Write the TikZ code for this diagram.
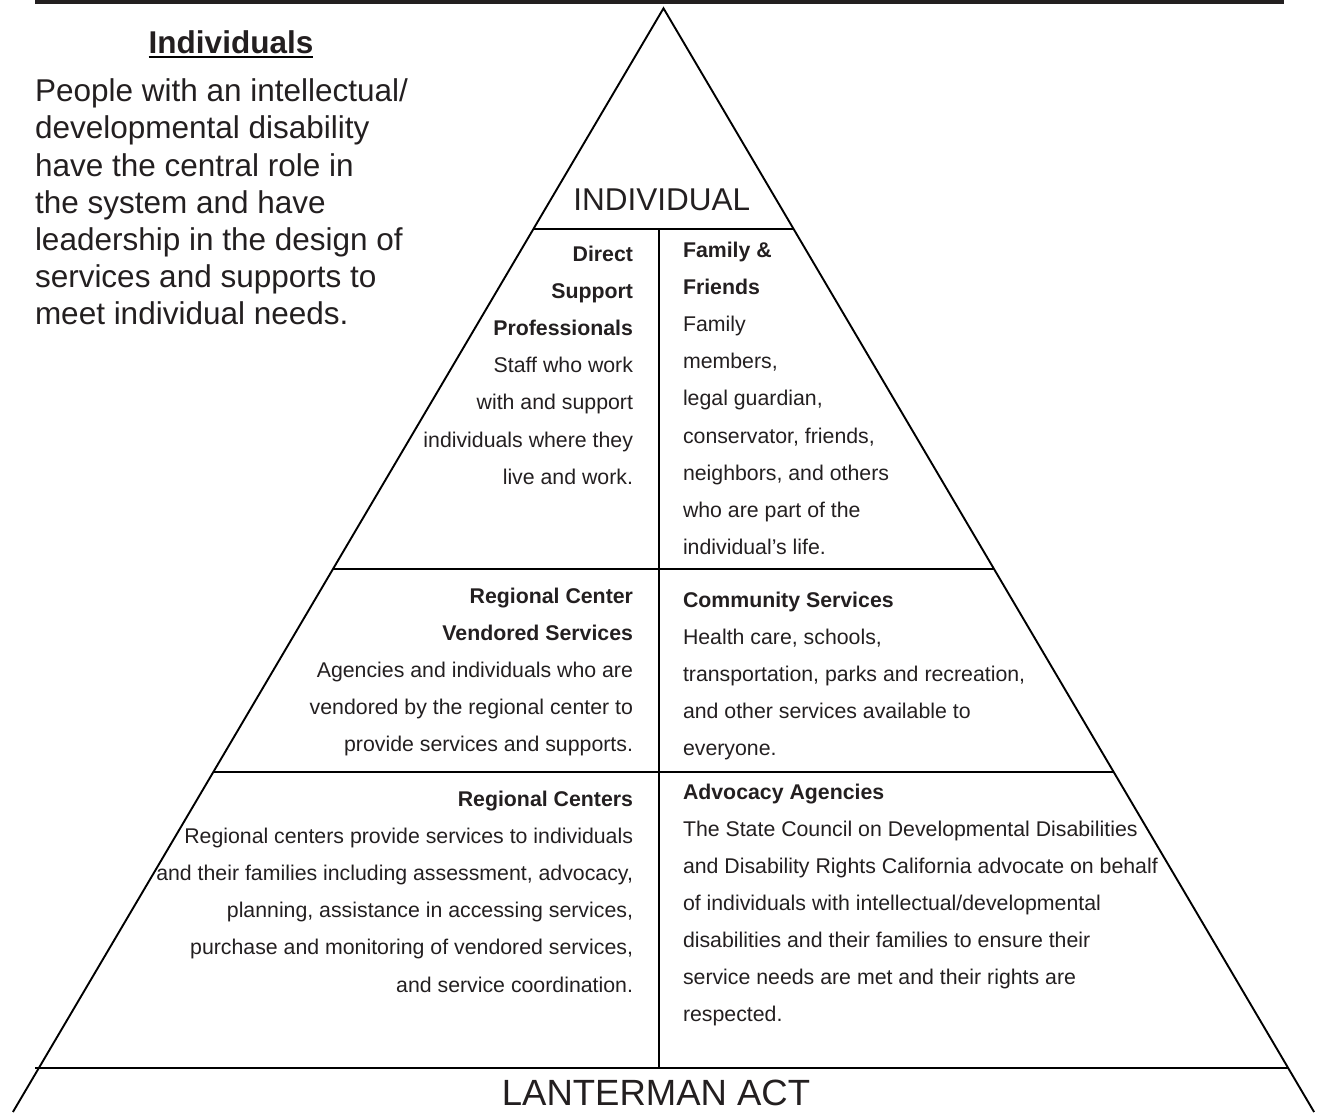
\documentclass[tikz,border=0pt]{standalone}
\usepackage{fontspec}
\setmainfont{Liberation Sans}
\definecolor{ink}{HTML}{231F20}
\begin{document}
\begin{tikzpicture}[x=1pt,y=-1pt,line width=1.9pt]
\tikzset{ draw=ink, text=ink, inner sep=0pt, outer sep=0pt,
  big/.style={font=\fontsize{31.5}{37.2}\selectfont},
  small/.style={font=\fontsize{21.3}{37.1}\selectfont},
  leftcol/.style={small, anchor=base east, align=right},
  rightcol/.style={small, anchor=base west, align=left},
}
\useasboundingbox (0,0) rectangle (1319,1112);

% top bar
\fill [ink] (35,0) rectangle (1284,4);

% pyramid
\coordinate (A) at (663.5,8.3);
\coordinate (L) at (12.9,1112);
\coordinate (R) at (1314.1,1112);
\draw [line join=miter] (L) -- (A) -- (R);

\draw (533.4,229) -- (793.6,229);
\draw (332.8,569.3) -- (994.2,569.3);
\draw (213.1,772.3) -- (1113.9,772.3);
\draw [line width=2.5pt] (35,1068) -- (1288.2,1068);
\draw (659,229) -- (659,1068);

\node [big, anchor=base] (indiv) at (661.7,210.7) {INDIVIDUAL};
\node [font=\fontsize{36.5}{40}\selectfont, anchor=base] (lact) at (656,1105) {LANTERMAN ACT};

% left text (base = last line)
\node [big, anchor=base] (head) at (231,53.3) {\textbf{Individuals}};
\draw [line width=2pt] ([yshift=-3.8pt]head.base west) -- ([yshift=-3.8pt]head.base east);
\node [big, anchor=base west, align=left] (about) at (35,324.9)
  {People with an intellectual/\\developmental disability\\have the central role in\\the system and have\\leadership in the design of\\services and supports to\\meet individual needs.};

% cells
\node [leftcol] (dsp) at (633,484.1)
  {\textbf{Direct}\\\textbf{Support}\\\textbf{Professionals}\\Staff who work\\with and support\\individuals where they\\live and work.};
\node [rightcol] (ff) at (683,554.3)
  {\textbf{Family \&}\\\textbf{Friends}\\Family\\members,\\legal guardian,\\conservator, friends,\\neighbors, and others\\who are part of the\\individual’s life.};
\node [leftcol] (rcvs) at (633,751.9)
  {\textbf{Regional Center}\\\textbf{Vendored Services}\\Agencies and individuals who are\\vendored by the regional center to\\provide services and supports.};
\node [rightcol] (cs) at (683,755.9)
  {\textbf{Community Services}\\Health care, schools,\\transportation, parks and recreation,\\and other services available to\\everyone.};
\node [leftcol] (rc) at (633,992)
  {\textbf{Regional Centers}\\Regional centers provide services to individuals\\and their families including assessment, advocacy,\\planning, assistance in accessing services,\\purchase and monitoring of vendored services,\\and service coordination.};
\node [rightcol] (aa) at (683,1021.6)
  {\textbf{Advocacy Agencies}\\The State Council on Developmental Disabilities\\and Disability Rights California advocate on behalf\\of individuals with intellectual/developmental\\disabilities and their families to ensure their\\service needs are met and their rights are\\respected.};

\end{tikzpicture}
\end{document}
